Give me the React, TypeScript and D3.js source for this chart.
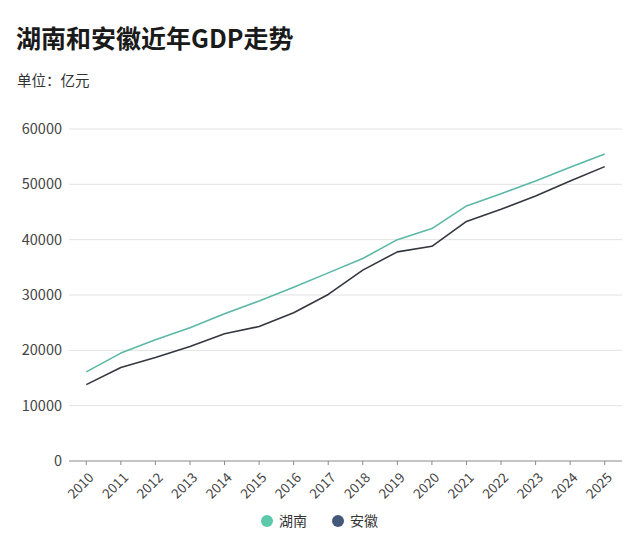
import React from 'react';
import * as d3 from 'd3';

const years = ['2010', '2011', '2012', '2013', '2014', '2015', '2016', '2017', '2018', '2019', '2020', '2021', '2022', '2023', '2024', '2025'];
const hunan = [16100, 19500, 21900, 24100, 26600, 28900, 31400, 34000, 36600, 40000, 42000, 46100, 48300, 50600, 53100, 55500];
const anhui = [13800, 16900, 18700, 20700, 23000, 24300, 26800, 30100, 34500, 37800, 38800, 43300, 45500, 47900, 50600, 53200];
const yTicks = [0, 10000, 20000, 30000, 40000, 50000, 60000];

const seriesNames = ['湖南', '安徽'];
const lineColors = ['#5bb8a6', '#33373f'];
const dotColors = ['#5cc9aa', '#44587a'];

const FONT = '"Noto Sans CJK SC", "Noto Sans", sans-serif';

const width = 640;
const height = 536;
const marginLeft = 69;
const marginRight = 18;
const plotTop = 129;
const plotBottom = 461;

export default function App() {
  const x = d3.scaleBand<string>().domain(years).range([marginLeft, width - marginRight]).padding(0);
  const y = d3.scaleLinear().domain([0, 60000]).range([plotBottom, plotTop]);
  const cx = (yr: string) => (x(yr) || 0) + x.bandwidth() / 2;

  const line = d3.line<number>()
    .x((_, i) => cx(years[i]))
    .y(d => y(d));

  const series = [hunan, anhui];

  return (
    <svg width={width} height={height} style={{ position: 'absolute', left: 0, top: 0, background: '#fff' }} fontFamily={FONT}>
      <text x={16} y={48} fontSize={25} fontWeight={700} fill="#1a1a1a">湖南和安徽近年GDP走势</text>
      <text x={17} y={86} fontSize={14.5} fill="#333">单位：亿元</text>

      {/* grid + y labels */}
      {yTicks.map(t => (
        <g key={t}>
          {t !== 0 && (
            <line x1={marginLeft} x2={width - marginRight} y1={y(t)} y2={y(t)} stroke="#e2e2e2" strokeWidth={1} />
          )}
          <text x={62} y={y(t)} dy="0.35em" textAnchor="end" fontSize={14.5} fill="#444">{t}</text>
        </g>
      ))}

      {/* x axis */}
      <line x1={marginLeft} x2={width - marginRight} y1={plotBottom} y2={plotBottom} stroke="#8a8a8a" strokeWidth={1} />
      {years.map(yr => (
        <g key={yr}>
          <line x1={cx(yr)} x2={cx(yr)} y1={plotBottom} y2={plotBottom + 4} stroke="#8a8a8a" strokeWidth={1} />
          <text
            transform={`translate(${cx(yr) + 5},${plotBottom + 14}) rotate(-45)`}
            textAnchor="end"
            dy="0.35em"
            fontSize={13.5}
            fill="#444"
          >{yr}</text>
        </g>
      ))}

      {/* lines */}
      {series.map((s, i) => (
        <path key={i} d={line(s) || ''} fill="none" stroke={lineColors[i]} strokeWidth={1.6} strokeLinejoin="round" />
      ))}

      {/* legend */}
      {seriesNames.map((name, i) => (
        <g key={name} transform={`translate(${267 + i * 71},521)`}>
          <circle r={6} fill={dotColors[i]} />
          <text x={12} dy="0.35em" fontSize={14} fill="#333">{name}</text>
        </g>
      ))}
    </svg>
  );
}
